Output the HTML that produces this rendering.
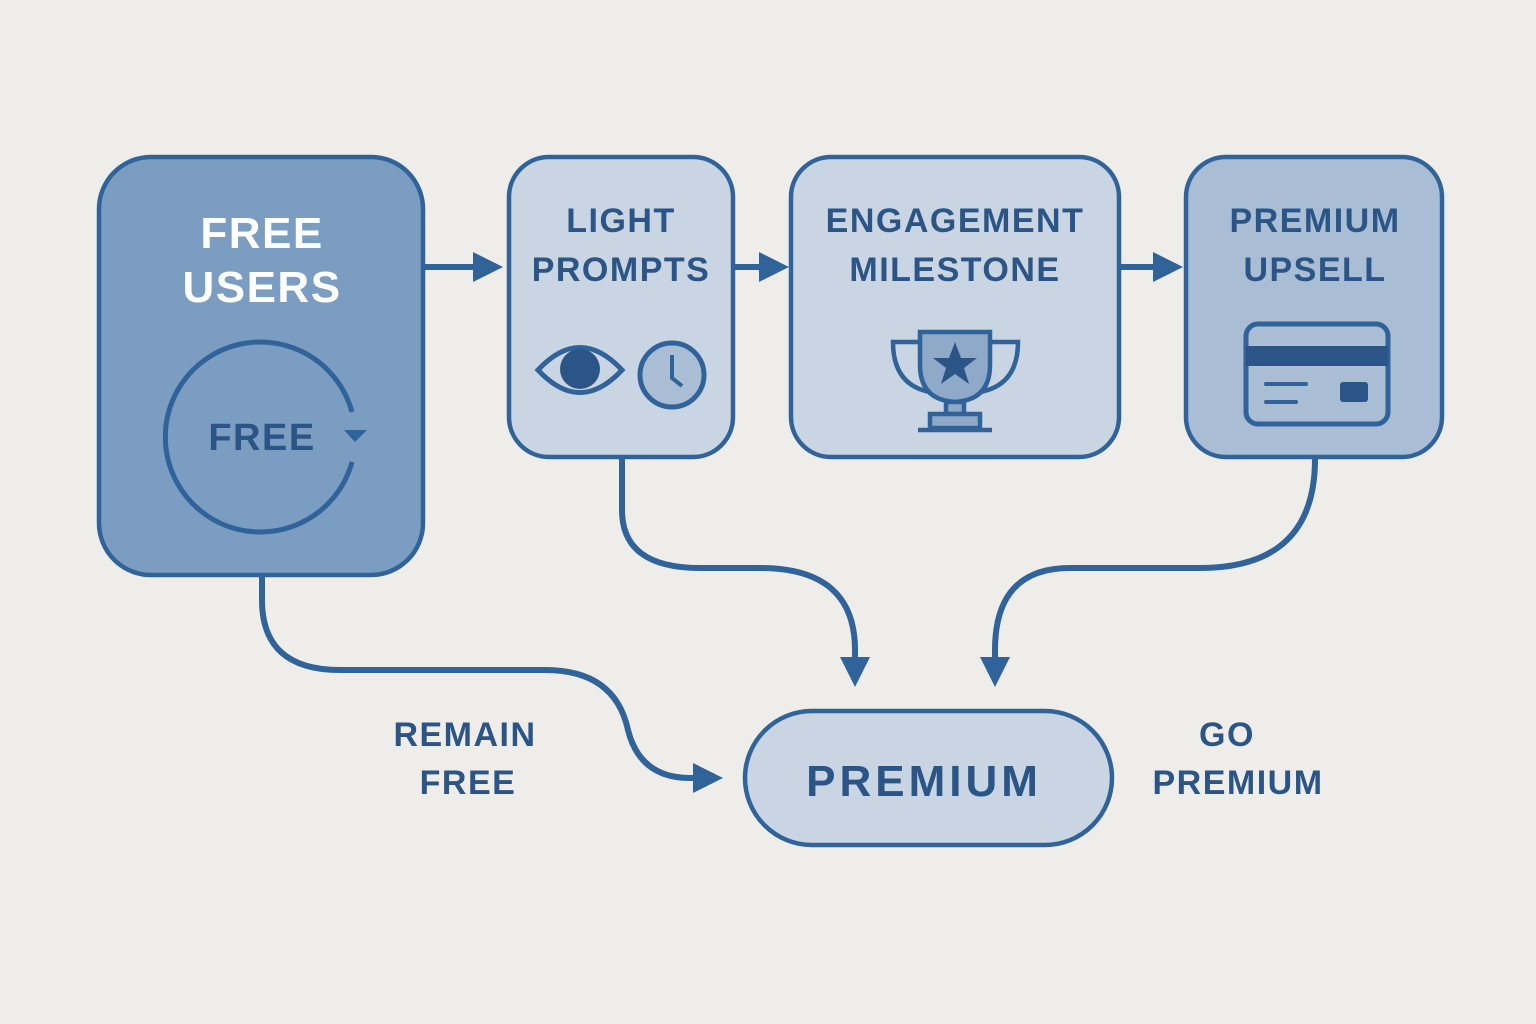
<!DOCTYPE html>
<html><head><meta charset="utf-8"><style>
html,body{margin:0;padding:0;background:#efedea;}
svg{display:block}
text{font-family:"Liberation Sans","DejaVu Sans",sans-serif;font-weight:bold;text-anchor:middle;letter-spacing:1.5px}
</style></head><body>
<svg width="1536" height="1024" viewBox="0 0 1536 1024">
<defs>
<marker id="ah" markerWidth="5" markerHeight="5" refX="2.5" refY="2.5" orient="auto" markerUnits="strokeWidth">
<path d="M0,0 L5,2.5 L0,5 z" fill="#2f6399"/></marker>
</defs>
<rect width="1536" height="1024" fill="#efedea"/>
<g stroke="#2f6399" stroke-width="4.5">
<rect x="99" y="157" width="324" height="418" rx="52" fill="#7b9dc1"/>
<rect x="509" y="157" width="224" height="300" rx="40" fill="#c9d5e2"/>
<rect x="791" y="157" width="328" height="300" rx="40" fill="#c9d5e2"/>
<rect x="1186" y="157" width="256" height="300" rx="40" fill="#a9bed5"/>
<rect x="745" y="711" width="367" height="134" rx="67" fill="#c9d5e2"/>
</g>
<g stroke="#2f6399" stroke-width="6" fill="none" stroke-linecap="butt">
<path d="M425,267 H488" marker-end="url(#ah)"/>
<path d="M735,267 H774" marker-end="url(#ah)"/>
<path d="M1121,267 H1168" marker-end="url(#ah)"/>
<path d="M622,459 V510 Q622,568 700,568 H760 Q855,568 855,650 V672" marker-end="url(#ah)"/>
<path d="M1315,459 Q1315,568 1200,568 H1070 Q995,568 995,650 V672" marker-end="url(#ah)"/>
<path d="M262,577 V600 Q262,670 340,670 H545 Q615,670 628,730 Q640,778 690,778 H708" marker-end="url(#ah)"/>
<path d="M352,412 A95,95 0 1,0 352,462" stroke-width="5"/>
</g>
<path d="M344,430 L367,430 L355,442 z" fill="#2f6399"/>
<text x="262" y="248" font-size="44" fill="#fff">FREE</text>
<text x="262" y="302" font-size="44" fill="#fff">USERS</text>
<text x="262" y="450" font-size="38" fill="#2a5586">FREE</text>
<g fill="#2a5586" font-size="34">
<text x="621" y="232">LIGHT</text>
<text x="621" y="281">PROMPTS</text>
<text x="955" y="232">ENGAGEMENT</text>
<text x="955" y="281">MILESTONE</text>
<text x="1315" y="232">PREMIUM</text>
<text x="1315" y="281">UPSELL</text>
<text x="465" y="746">REMAIN</text>
<text x="468" y="794">FREE</text>
<text x="1227" y="746">GO</text>
<text x="1238" y="794">PREMIUM</text>
</g>
<text x="924" y="796" font-size="44" fill="#2a5586" style="letter-spacing:4px">PREMIUM</text>
<g stroke="#2f6399" stroke-width="5" fill="none">
<path d="M538,370 Q580,325 622,370 Q580,415 538,370 z" fill="#c9d5e2"/>
<circle cx="672" cy="375" r="32" fill="#a9bed5"/>
<path d="M672,355 V378 L682,386" stroke-width="4"/>
</g>
<circle cx="580" cy="369" r="20" fill="#2a5586"/>
<g stroke="#2f6399" stroke-width="4.5" fill="#8fa9c8">
<path d="M920,332 H990 V365 Q990,400 955,402 Q920,400 920,365 z"/>
<path d="M920,342 H893 Q893,385 930,392" fill="none"/>
<path d="M990,342 H1018 Q1018,385 980,392" fill="none"/>
<rect x="946" y="402" width="18" height="12"/>
<rect x="930" y="414" width="50" height="14"/>
<path d="M918,430 H992" fill="none"/>
</g>
<path d="M955,342 L961,358 L977,358 L964,368 L969,384 L955,374 L941,384 L946,368 L933,358 L949,358 z" fill="#2a5586"/>
<rect x="1246" y="324" width="142" height="100" rx="12" fill="#a9bed5" stroke="#2f6399" stroke-width="5"/>
<rect x="1246" y="346" width="142" height="20" fill="#2a5586"/>
<g stroke="#2f6399" stroke-width="4" stroke-linecap="round">
<path d="M1266,384 H1306 M1266,402 H1296"/>
</g>
<rect x="1340" y="382" width="28" height="20" rx="3" fill="#2a5586"/>
</svg>
</body></html>
